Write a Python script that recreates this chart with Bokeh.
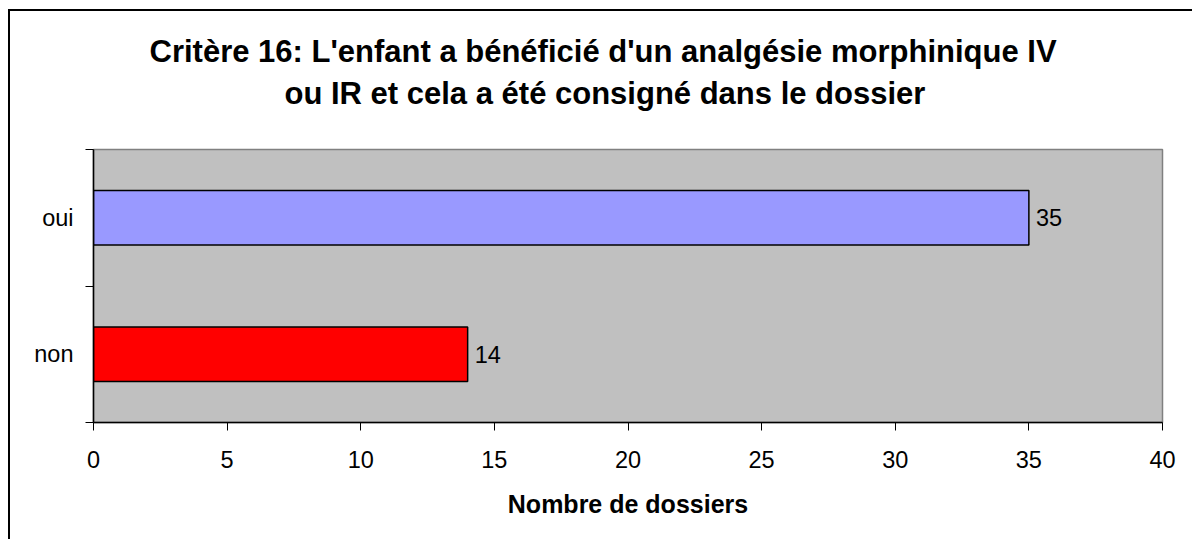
from bokeh.plotting import figure
from bokeh.models import Range1d, FixedTicker, ColumnDataSource, Title
from bokeh.core.properties import value
from bokeh.embed import file_html
from bokeh.resources import INLINE

title_lines = ["Critère 16: L'enfant a bénéficié d'un analgésie morphinique IV",
               "ou IR et cela a été consigné dans le dossier"]
categories = ["non", "oui"]
counts = [14, 35]
bar_colors = ["#FF0000", "#9999FF"]
x_ticks = [0, 5, 10, 15, 20, 25, 30, 35, 40]
x_label = "Nombre de dossiers"

FONT = "Liberation Sans"

ypos = [i + 0.5 for i in range(len(categories))]
src = ColumnDataSource(dict(y=ypos, v=counts, c=bar_colors,
                            t=[str(v) for v in counts]))

p = figure(width=1184, height=530, output_backend="svg", toolbar_location=None,
           title=None,
           x_range=Range1d(0, 40), y_range=Range1d(0, len(categories)),
           min_border_left=83, min_border_right=32, min_border_top=138,
           min_border_bottom=119)
p.styles = {"margin-left": "8px", "margin-top": "9px",
            "border-left": "2px solid black", "border-top": "2px solid black"}

# blank spacer between the title and the plot frame (white on white)
p.add_layout(Title(text=".", text_color="white", text_font=FONT, text_font_size="10px",
                   standoff=25.5), "above")
# title lines (added from the frame outward)
for line, off, so in zip(reversed(title_lines), [191, 56], [5, 6]):
    p.add_layout(Title(text=line, align="left", offset=off, standoff=so,
                       text_font=FONT, text_font_size="31px",
                       text_font_style="bold", text_color="black"), "above")

p.background_fill_color = "#C0C0C0"
p.border_fill_color = "white"
p.outline_line_color = "#808080"
p.outline_line_width = 1.5
p.grid.visible = False

p.hbar(y="y", right="v", left=0, height=0.4, fill_color="c", line_color="black",
       line_width=1.5, source=src)
p.text(x="v", y="y", text="t", x_offset=7, text_baseline="middle", text_align="left",
       text_font=value(FONT), text_font_size=value("23.5px"), text_color="black",
       source=src)

xa = p.xaxis[0]
xa.ticker = FixedTicker(ticks=x_ticks)
xa.major_tick_out = 8
xa.major_tick_in = 0
xa.minor_tick_out = 0
xa.minor_tick_in = 0
xa.axis_line_color = "black"
xa.axis_line_width = 1.5
xa.major_tick_line_color = "black"
xa.major_label_text_font = FONT
xa.major_label_text_font_size = "23.5px"
xa.major_label_text_color = "black"
xa.major_label_standoff = 20
xa.axis_label = x_label
xa.axis_label_text_font = FONT
xa.axis_label_text_font_size = "25px"
xa.axis_label_text_font_style = "bold"
xa.axis_label_text_color = "black"
xa.axis_label_standoff = 19

ya = p.yaxis[0]
ya.ticker = FixedTicker(ticks=ypos, minor_ticks=list(range(len(categories) + 1)))
ya.major_label_overrides = {y: c for y, c in zip(ypos, categories)}
ya.major_tick_out = 0
ya.major_tick_in = 0
ya.minor_tick_out = 8
ya.minor_tick_in = 0
ya.minor_tick_line_color = "black"
ya.axis_line_color = "black"
ya.axis_line_width = 1.5
ya.major_label_text_font = FONT
ya.major_label_text_font_size = "23.5px"
ya.major_label_text_color = "black"
ya.major_label_standoff = 12

open("out.html", "w").write(file_html(p, INLINE))
